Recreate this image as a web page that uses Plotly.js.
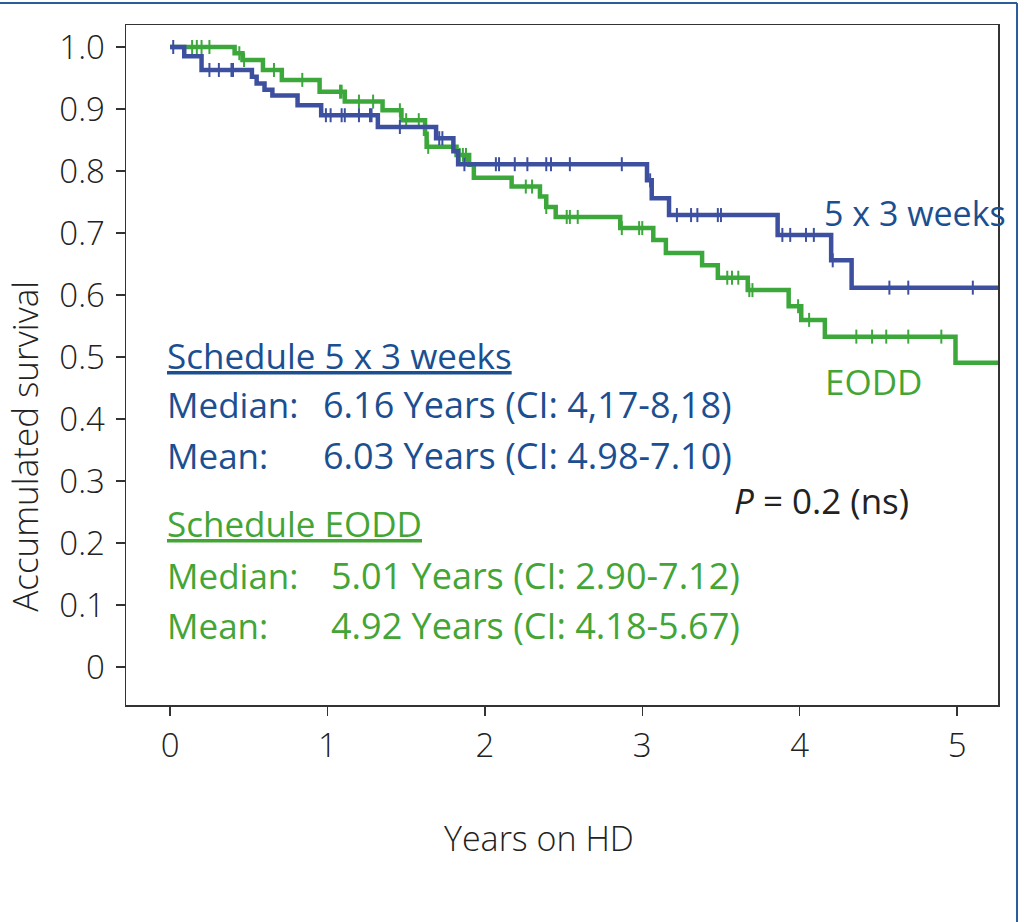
<!DOCTYPE html>
<html>
<head>
<meta charset="utf-8">
<script src="https://cdn.plot.ly/plotly-3.0.1.min.js"></script>
<style>html,body{margin:0;padding:0;background:#fff;}#chart{width:1024px;height:922px;}</style>
</head>
<body>
<div id="chart"></div>
<script>
// Kaplan-Meier step data: 5 x 3 weeks schedule
var blueTimes = [0, 0.09, 0.20, 0.52, 0.55, 0.60, 0.65, 0.81, 0.96, 1.32, 1.69, 1.80, 1.83, 3.03, 3.06, 3.17, 3.86, 4.20, 4.33, 5.26];
var blueSurv  = [1.0, 0.985, 0.963, 0.952, 0.941, 0.931, 0.922, 0.906, 0.890, 0.871, 0.853, 0.832, 0.811, 0.785, 0.756, 0.729, 0.697, 0.656, 0.612, 0.612];
var blueCensor = [0.02, 0.25, 0.31, 0.39, 0.40, 0.99, 1.02, 1.09, 1.11, 1.20, 1.27, 1.28, 1.46, 1.71, 1.73, 1.87, 2.07, 2.09, 2.19, 2.27, 2.39, 2.42, 2.54, 2.87, 3.05, 3.22, 3.31, 3.35, 3.48, 3.50, 3.89, 3.94, 4.04, 4.09, 4.21, 4.57, 4.69, 5.10];

// Kaplan-Meier step data: EODD schedule
var greenTimes = [0, 0.41, 0.46, 0.59, 0.71, 0.95, 1.11, 1.35, 1.47, 1.62, 1.63, 1.82, 1.90, 1.93, 2.17, 2.35, 2.39, 2.45, 2.86, 3.07, 3.15, 3.38, 3.48, 3.67, 3.93, 4.01, 4.16, 4.99, 5.26];
var greenSurv  = [1.0, 0.990, 0.979, 0.963, 0.947, 0.928, 0.912, 0.898, 0.882, 0.860, 0.839, 0.826, 0.810, 0.789, 0.775, 0.759, 0.742, 0.726, 0.708, 0.689, 0.668, 0.648, 0.628, 0.608, 0.582, 0.560, 0.533, 0.491, 0.491];
var greenCensor = [0.14, 0.17, 0.20, 0.25, 0.44, 0.47, 0.66, 0.84, 1.08, 1.09, 1.20, 1.29, 1.46, 1.50, 1.58, 1.64, 1.84, 1.86, 1.88, 2.26, 2.30, 2.39, 2.52, 2.54, 2.59, 2.87, 2.98, 3.00, 3.54, 3.57, 3.61, 3.68, 3.70, 3.99, 4.06, 4.36, 4.46, 4.55, 4.69, 4.90];

var yTickVals = [0, 0.1, 0.2, 0.3, 0.4, 0.5, 0.6, 0.7, 0.8, 0.9, 1.0];
var yTickText = ['0', '0.1', '0.2', '0.3', '0.4', '0.5', '0.6', '0.7', '0.8', '0.9', '1.0'];
var xTickVals = [0, 1, 2, 3, 4, 5];
var xTickText = ['0', '1', '2', '3', '4', '5'];

function survAt(times, surv, t) {
  var s = surv[0];
  for (var i = 0; i < times.length; i++) { if (times[i] <= t) s = surv[i]; }
  return s;
}

var lineBlue = '#3d50a0', lineGreen = '#3ca83c';
var textBlue = '#1b4f91', textGreen = '#43a535';

var traces = [
  {x: greenTimes, y: greenSurv, mode: 'lines', line: {shape: 'hv', color: lineGreen, width: 4.5}, hoverinfo: 'skip'},
  {x: greenCensor, y: greenCensor.map(function(t){return survAt(greenTimes, greenSurv, t);}), mode: 'markers',
   marker: {symbol: 'line-ns', size: 10, line: {color: lineGreen, width: 2}}, hoverinfo: 'skip'},
  {x: blueTimes, y: blueSurv, mode: 'lines', line: {shape: 'hv', color: lineBlue, width: 4.5}, hoverinfo: 'skip'},
  {x: blueCensor, y: blueCensor.map(function(t){return survAt(blueTimes, blueSurv, t);}), mode: 'markers',
   marker: {symbol: 'line-ns', size: 10, line: {color: lineBlue, width: 2}}, hoverinfo: 'skip'}
];

var tf = 'Open Sans, Liberation Sans, sans-serif';
var tickFont = {family: tf, size: 33, color: '#222', weight: 300};

function ann(x, y, text, color, size, opts) {
  var a = {x: x, y: y, xref: 'x', yref: 'y', text: text, showarrow: false, xanchor: 'left', yanchor: 'middle',
           font: {family: tf, size: size || 35, color: color}};
  if (opts) for (var k in opts) a[k] = opts[k];
  return a;
}

var annotations = [
  ann(-0.03, 0.503, '<u>Schedule 5 x 3 weeks</u>', textBlue),
  ann(-0.03, 0.423, 'Median:', textBlue),
  ann(0.96, 0.423, '6.16 Years (CI: 4,17-8,18)', textBlue, 36),
  ann(-0.03, 0.342, 'Mean:', textBlue),
  ann(0.96, 0.342, '6.03 Years (CI: 4.98-7.10)', textBlue, 36),
  ann(-0.03, 0.232, '<u>Schedule EODD</u>', textGreen),
  ann(-0.03, 0.148, 'Median:', textGreen),
  ann(1.01, 0.148, '5.01 Years (CI: 2.90-7.12)', textGreen, 36),
  ann(-0.03, 0.068, 'Mean:', textGreen),
  ann(1.01, 0.068, '4.92 Years (CI: 4.18-5.67)', textGreen, 36),
  ann(3.57, 0.269, '<i>P</i> = 0.2 (ns)', '#222'),
  ann(4.14, 0.732, '5 x 3 weeks', textBlue, 34),
  ann(4.15, 0.460, 'EODD', textGreen),
  {x: -0.116, y: 0.381, xref: 'paper', yref: 'paper', text: 'Accumulated survival', textangle: -90, showarrow: false,
   xanchor: 'center', yanchor: 'middle', borderpad: 0, font: {family: tf, size: 35, color: '#222', weight: 300}},
  {x: 0.474, y: -0.196, xref: 'paper', yref: 'paper', text: 'Years on HD', showarrow: false,
   xanchor: 'center', yanchor: 'middle', font: {family: tf, size: 34, color: '#222', weight: 300}}
];

var shapes = [
  {type: 'line', xref: 'paper', yref: 'paper', x0: -0.15, x1: 1.0218, y0: 1.0324, y1: 1.0324, line: {color: '#2b5c9c', width: 2}},
  {type: 'line', xref: 'paper', yref: 'paper', x0: 1.0218, x1: 1.0218, y0: 1.0324, y1: -0.33, line: {color: '#2b5c9c', width: 2}}
];

var layout = {
  width: 1024, height: 922,
  margin: {l: 126, r: 26, t: 25, b: 217},
  paper_bgcolor: '#fff', plot_bgcolor: '#fff',
  showlegend: false,
  xaxis: {range: [-0.28, 5.26], tickvals: xTickVals, ticktext: xTickText, showgrid: false, zeroline: false,
          showline: true, mirror: true, linecolor: '#333', linewidth: 1.5, ticks: 'outside', ticklen: 9, tickwidth: 1.5,
          tickcolor: '#333', tickfont: tickFont, ticklabelstandoff: 2},
  yaxis: {range: [-0.061, 1.0355], tickvals: yTickVals, ticktext: yTickText, showgrid: false, zeroline: false,
          showline: true, mirror: true, linecolor: '#333', linewidth: 1.5, ticks: 'outside', ticklen: 9, tickwidth: 1.5,
          tickcolor: '#333', tickfont: tickFont, ticklabelstandoff: 4},
  annotations: annotations,
  shapes: shapes
};

Plotly.newPlot('chart', traces, layout, {displayModeBar: false, staticPlot: true});
</script>
</body>
</html>
